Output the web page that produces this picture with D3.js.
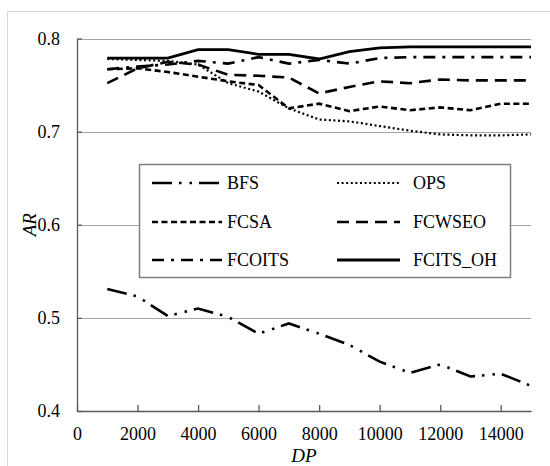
<!DOCTYPE html>
<html>
<head>
<meta charset="utf-8">
<script src="https://cdn.jsdelivr.net/npm/d3@7/dist/d3.min.js"></script>
<style>
  html, body { margin: 0; padding: 0; background: #fff; }
  svg { display: block; }
</style>
</head>
<body>
<svg id="chart" width="550" height="466"></svg>
<script>
// x values (DP)
var dp = [1000, 2000, 3000, 4000, 5000, 6000, 7000, 8000, 9000, 10000, 11000, 12000, 13000, 14000, 15000];

// AR per method
var bfs      = [0.531, 0.523, 0.502, 0.510, 0.501, 0.483, 0.494, 0.483, 0.471, 0.453, 0.441, 0.450, 0.437, 0.440, 0.427];
var ops      = [0.778, 0.777, 0.776, 0.772, 0.752, 0.743, 0.725, 0.713, 0.711, 0.706, 0.701, 0.697, 0.696, 0.696, 0.697];
var fcsa     = [0.767, 0.768, 0.764, 0.759, 0.754, 0.750, 0.725, 0.730, 0.722, 0.727, 0.723, 0.726, 0.723, 0.730, 0.730];
var fcwseo   = [0.752, 0.768, 0.775, 0.772, 0.761, 0.760, 0.758, 0.741, 0.748, 0.754, 0.752, 0.756, 0.755, 0.755, 0.755];
var fcoits   = [0.767, 0.770, 0.772, 0.776, 0.773, 0.780, 0.773, 0.777, 0.773, 0.779, 0.780, 0.780, 0.780, 0.780, 0.780];
var fcits_oh = [0.779, 0.779, 0.779, 0.788, 0.788, 0.783, 0.783, 0.778, 0.786, 0.790, 0.791, 0.791, 0.791, 0.791, 0.791];

var xTicks = [0, 2000, 4000, 6000, 8000, 10000, 12000, 14000];
var yTicks = [0.4, 0.5, 0.6, 0.7, 0.8];

var FONT = "Liberation Serif";

var series = [
    {name: "BFS",       values: bfs,      dash: "20,7,2.5,8,2.5,7", w: 2.6},
    {name: "OPS",       values: ops,      dash: "2,2.6",            w: 2.2},
    {name: "FCSA",      values: fcsa,     dash: "6,3.5",            w: 2.6},
    {name: "FCWSEO",    values: fcwseo,   dash: "12,7",             w: 2.6},
    {name: "FCOITS",    values: fcoits,   dash: "12,7,3,7",         w: 2.6},
    {name: "FCITS_OH",  values: fcits_oh, dash: null,               w: 2.8}
];

var svg = d3.select("#chart");

var x = d3.scaleLinear().domain([0, 15000]).range([77, 531]);
var y = d3.scaleLinear().domain([0.4, 0.8]).range([411, 38.5]);

// chart area border (only top/left visible in the picture)
svg.append("rect")
    .attr("x", 7.5).attr("y", 11.5)
    .attr("width", 600).attr("height", 600)
    .attr("fill", "none")
    .attr("stroke", "#d9d9d9")
    .attr("stroke-width", 1);

// gridlines
svg.append("g")
    .selectAll("line")
    .data(yTicks.slice(1))
    .join("line")
    .attr("x1", x(0)).attr("x2", x(15000))
    .attr("y1", function(d){ return Math.round(y(d)) + 0.5; })
    .attr("y2", function(d){ return Math.round(y(d)) + 0.5; })
    .attr("stroke", "#a6a6a6")
    .attr("stroke-width", 1.2);

// series lines
var line = d3.line()
    .x(function(d){ return x(d[0]); })
    .y(function(d){ return y(d[1]); });

svg.append("g")
    .selectAll("path")
    .data(series)
    .join("path")
    .attr("d", function(s){ return line(dp.map(function(v, i){ return [v, s.values[i]]; })); })
    .attr("fill", "none")
    .attr("stroke", "#000")
    .attr("stroke-width", function(s){ return s.w; })
    .attr("stroke-dasharray", function(s){ return s.dash; });

// axes
var xAxis = d3.axisBottom(x).tickValues(xTicks).tickSizeInner(-6).tickSizeOuter(0)
    .tickPadding(16).tickFormat(d3.format("d"));
var gx = svg.append("g").attr("transform", "translate(0," + 411 + ")").call(xAxis);

var yAxis = d3.axisLeft(y).tickValues(yTicks).tickSizeInner(-5).tickSizeOuter(0)
    .tickPadding(17).tickFormat(d3.format(".1f"));
var gy = svg.append("g").attr("transform", "translate(" + 77 + ",0)").call(yAxis);

[gx, gy].forEach(function(g){
    g.attr("font-family", null).attr("font-size", null);
    g.select(".domain").attr("stroke", "#595959").attr("stroke-width", 1.3);
    g.selectAll(".tick line").attr("stroke", "#595959").attr("stroke-width", 1.3);
    g.selectAll(".tick text")
        .style("font-family", FONT)
        .style("font-size", "18px")
        .attr("fill", "#000");
});

// axis titles
svg.append("text")
    .attr("x", (x(0) + x(15000)) / 2)
    .attr("y", 462)
    .attr("text-anchor", "middle")
    .style("font-family", FONT)
    .style("font-size", "19px")
    .style("font-style", "italic")
    .text("DP");

svg.append("text")
    .attr("transform", "translate(36," + ((y(0.4) + y(0.8)) / 2) + ") rotate(-90)")
    .attr("text-anchor", "middle")
    .style("font-family", FONT)
    .style("font-size", "19px")
    .style("font-style", "italic")
    .text("AR");

// legend
var legend = svg.append("g");
legend.append("rect")
    .attr("x", 139.5).attr("y", 164.5)
    .attr("width", 371).attr("height", 113)
    .attr("fill", "#fff")
    .attr("stroke", "#808080")
    .attr("stroke-width", 1.5);

var cols = [{x1: 152, x2: 222, tx: 227}, {x1: 337, x2: 400, tx: 413}];
var rows = [183, 222, 260];

var items = legend.selectAll("g.item")
    .data(series)
    .join("g")
    .attr("class", "item")
    .attr("transform", function(s, i){ return "translate(0," + rows[Math.floor(i / 2)] + ")"; });

items.append("line")
    .attr("x1", function(s, i){ return cols[i % 2].x1; })
    .attr("x2", function(s, i){ return cols[i % 2].x2; })
    .attr("stroke", "#000")
    .attr("stroke-width", function(s){ return s.w; })
    .attr("stroke-dasharray", function(s){ return s.dash; });

items.append("text")
    .attr("x", function(s, i){ return cols[i % 2].tx; })
    .attr("dy", "0.35em")
    .style("font-family", FONT)
    .style("font-size", "18px")
    .text(function(s){ return s.name; });
</script>
</body>
</html>
